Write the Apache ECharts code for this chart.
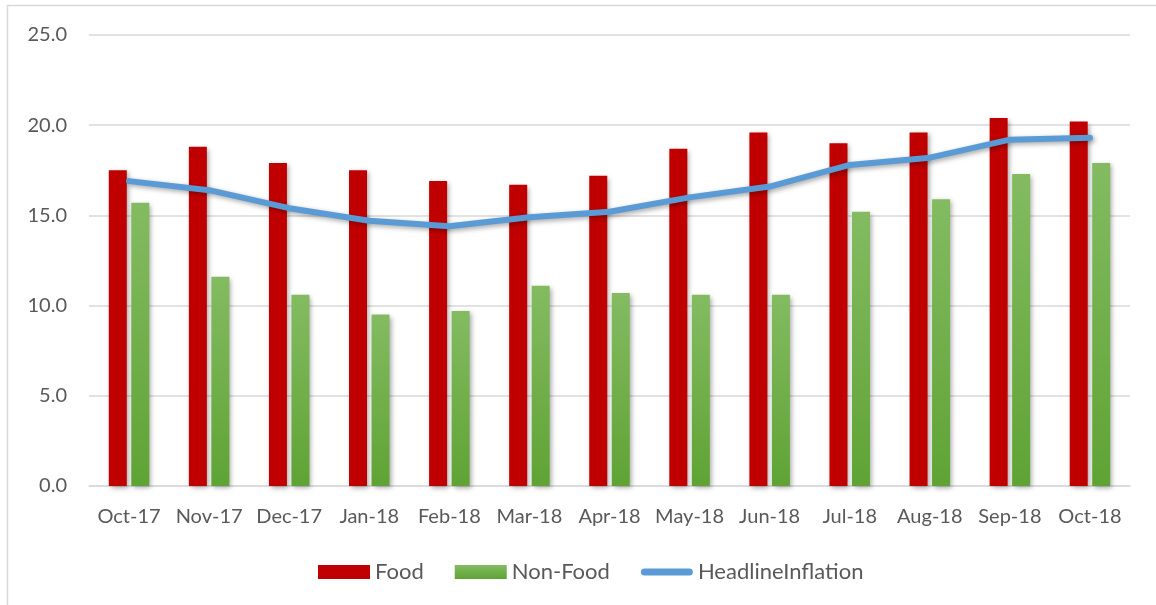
<!DOCTYPE html>
<html><head><meta charset="utf-8">
<script src="https://cdn.jsdelivr.net/npm/echarts@6/dist/echarts.min.js"></script>
<style>html,body{margin:0;padding:0;background:#fff}#c{width:1156px;height:605px}</style>
</head><body><div id="c"></div>
<script>
const categories = ['Oct-17','Nov-17','Dec-17','Jan-18','Feb-18','Mar-18','Apr-18','May-18','Jun-18','Jul-18','Aug-18','Sep-18','Oct-18'];
const food = [17.5, 18.8, 17.9, 17.5, 16.9, 16.7, 17.2, 18.7, 19.6, 19.0, 19.6, 20.4, 20.2];
const nonFood = [15.7, 11.6, 10.6, 9.5, 9.7, 11.1, 10.7, 10.6, 10.6, 15.2, 15.9, 17.3, 17.9];
const headline = [16.9, 16.4, 15.4, 14.7, 14.4, 14.9, 15.2, 16.0, 16.6, 17.8, 18.2, 19.2, 19.3];
const yTicks = [0, 5, 10, 15, 20, 25];

const FONT = 'Lato';
const chart = echarts.init(document.getElementById('c'), null, {renderer: 'canvas'});
const shadow = {shadowBlur: 5, shadowColor: 'rgba(0,0,0,0.35)', shadowOffsetX: 2, shadowOffsetY: 2};
chart.setOption({
  animation: false,
  backgroundColor: '#fff',
  graphic: [{type: 'rect', shape: {x: 7.5, y: 5.5, width: 1200, height: 700}, style: {fill: 'none', stroke: '#d9d9d9', lineWidth: 1.5}, z: -1}],
  grid: {left: 89, right: 26, top: 35, bottom: 119, containLabel: false},
  legend: {
    left: 313, top: 556, itemWidth: 52, itemHeight: 14, itemGap: 31,
    textStyle: {fontFamily: FONT, fontSize: 22, color: '#595959'},
    data: [{name: 'Food', icon: 'rect'}, {name: 'Non-Food', icon: 'rect'},
      {name: 'HeadlineInflation', icon: 'path://M3.5,0 H48.5 A3.5,3.5 0 0 1 48.5,7 H3.5 A3.5,3.5 0 0 1 3.5,0 Z'}]
  },
  xAxis: {
    type: 'category', data: categories,
    axisLine: {lineStyle: {color: '#d9d9d9', width: 1.5}},
    axisTick: {show: false},
    axisLabel: {fontFamily: FONT, fontSize: 20, color: '#595959', margin: 21, interval: 0}
  },
  yAxis: {
    type: 'value', min: 0, max: 25, interval: 5,
    axisLine: {show: false}, axisTick: {show: false},
    splitLine: {lineStyle: {color: '#d9d9d9', width: 1.5}},
    axisLabel: {fontFamily: FONT, fontSize: 20, color: '#595959', margin: 22,
      formatter: v => yTicks.includes(v) ? v.toFixed(1) : ''}
  },
  series: [
    {name: 'Food', type: 'bar', data: food, barWidth: 18, barGap: '25%',
      itemStyle: Object.assign({color: '#C00000'}, shadow)},
    {name: 'Non-Food', type: 'bar', data: nonFood, barWidth: 18,
      itemStyle: Object.assign({color: new echarts.graphic.LinearGradient(0, 0, 0, 1, [
        {offset: 0, color: '#84bb62'}, {offset: 1, color: '#5fa334'}])}, shadow)},
    {name: 'HeadlineInflation', type: 'line', data: headline, symbol: 'none', showSymbol: false,
      lineStyle: Object.assign({color: '#5B9BD5', width: 6, cap: 'round', join: 'round'}, shadow),
      itemStyle: {color: '#5B9BD5'}, z: 5}
  ]
});
</script></body></html>
